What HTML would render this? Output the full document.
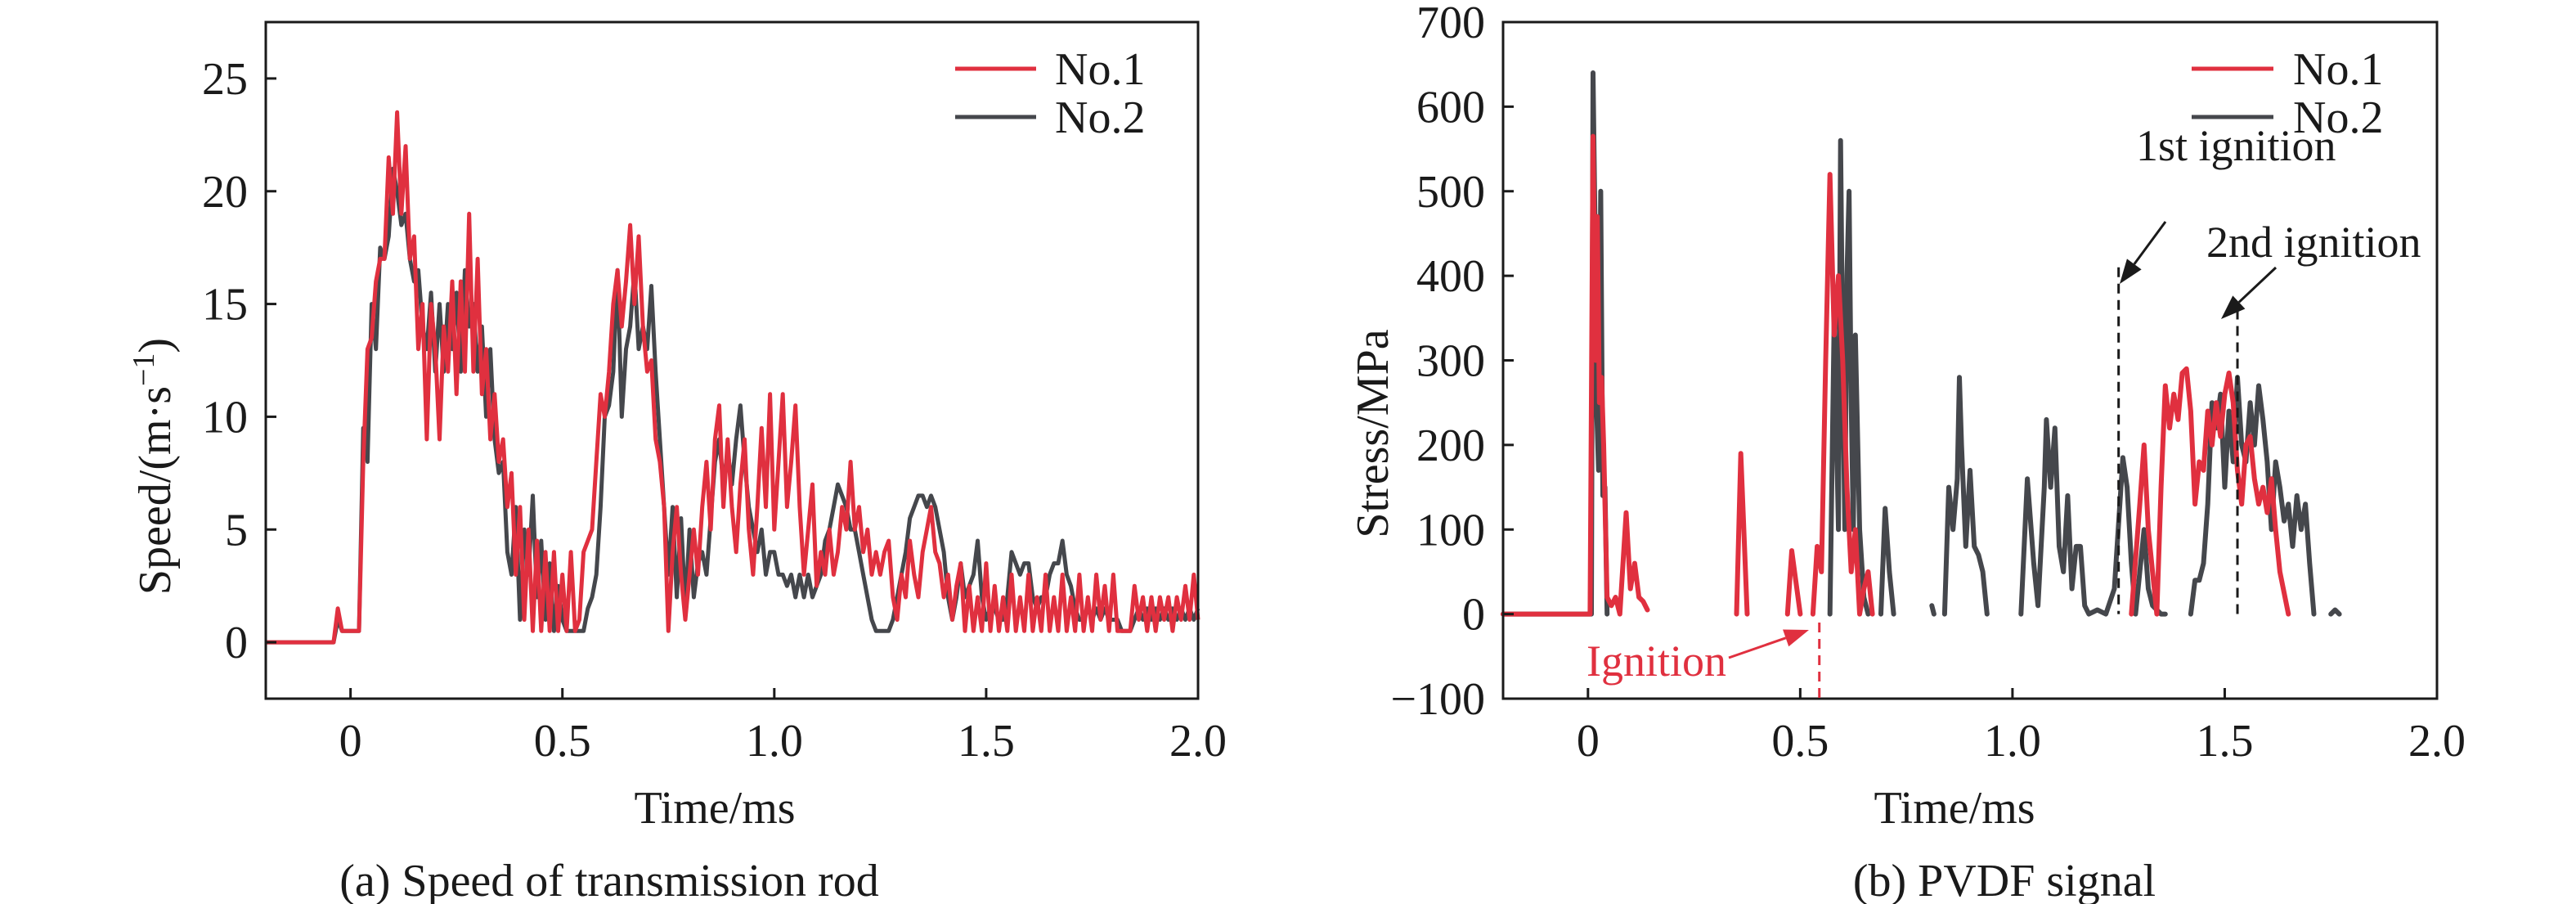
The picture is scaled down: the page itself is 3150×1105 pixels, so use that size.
<!DOCTYPE html>
<html><head><meta charset="utf-8">
<style>
html,body{margin:0;padding:0;background:#fff;}
svg{display:block;}
svg text{font-family:"Liberation Serif","Times New Roman",serif;}
</style></head>
<body>
<svg id="fig" width="3150" height="1105" viewBox="0 0 3150 1105" xmlns="http://www.w3.org/2000/svg" font-family="Liberation Serif, serif">
  <g id="chartA"></g>
  <g id="chartB"></g>
</svg>
<script>
// ---------- Chart (a) data ----------
const aXTicks = [0, 0.5, 1.0, 1.5, 2.0];
const aXTickLabels = ["0", "0.5", "1.0", "1.5", "2.0"];
const aYTicks = [0, 5, 10, 15, 20, 25];
const aYTickLabels = ["0", "5", "10", "15", "20", "25"];
const aStart = -0.04;
const aStep = 0.01;
const aNo1 = [0,1.5,0.5,0.5,0.5,0.5,0.5,8,
13,13.5,16,17,17,21.5,19,23.5,19,22,
17,18,13,15,9,15,13,9,14,12,
16,11,16,12,19,12,17,11,13,9,
11,8,9,6,7.5,3,6,1,5,0.5,
4.5,0.5,4,0.5,4,0.5,3,0.5,4,0.5,
1,4,4.5,5,8,11,10,12,15,16.5,
14,16,18.5,15,18,14,12,12.5,9,8,
6,
0.5,4,6,3,1,3,5,3,6,8,5,9,10.5,6,9,6,4,7,9,5,3,6,9.5,6,11,5,8,11,6,8,10.5,6,3,5,7,2.5,4,3,5,3,4,6,5,8,5,6,4,5,3,4,3,4,4.5,2,1,3,2,4.5,3,2,4,5,6,4,3.5,2,3,1,2.5,3.5,
0.5,2.5,0.5,2,0.5,3.5,0.5,2.5,0.5,2,0.5,3,0.5,2,0.5,3,0.5,2,0.5,3,0.5,2,0.5,3,0.5,2,0.5,3,0.5,2,0.5,3,1,2.5,0.5,3,0.5,0.5,0.5,0.5,2.5,1,2,0.5,2,0.5,2,1,2,0.5,2,1,2.5,1,3,1];
const aNo2 = [0,1,0.5,0.5,0.5,0.5,0.5,9.5,
8,15,13,17.5,17,18,21,20,18.5,19,17,16,16.5,14,13,15.5,12,15,12,15,13,15.5,12,16.5,14,15,12,14,10,13,9,7.5,8,4,3,6,1,5,3,6.5,2,4.5,1,3.5,0.5,2.5,
1,0.5,0.5,0.5,0.5,0.5,1.5,2,3,6,10,10.5,12,16.5,10,13,14,16.5,13,14,13,15.8,12,9,6,3,6,2,5.5,1.5,5,2,3.5,4,3,5.5,8,9,7,8.5,
7,9,10.5,8,6,5,4,5,3,4,4,3,3,2.5,3,2,3,2,3,2,2.5,3,4.5,5,6,7,6.5,6,5,5,4,3,2,1,0.5,0.5,0.5,0.5,1,2,3,4,5.5,6,6.5,6.5,6,6.5,6,5,4,2,1,2,3.5,2,2.5,3,4.5,2,1,1.5,1.5,1,1,2,4,3.5,3,3.5,3.5,2,1.5,2,2,3,3.5,3.5,4.5,3,2.5,1.5,1,1,1.5,
1,1.5,1,1.5,1,1,1,0.5,0.5,0.5,1,1.5,1,1.5,1,1.5,1,1.5,1,1.5,1,1.5,1,1.5,1,1.5];

// ---------- Chart (b) data ----------
const bXTicks = [0, 0.5, 1.0, 1.5, 2.0];
const bXTickLabels = ["0", "0.5", "1.0", "1.5", "2.0"];
const bYTicks = [-100, 0, 100, 200, 300, 400, 500, 600, 700];
const bYTickLabels = ["\u2212100", "0", "100", "200", "300", "400", "500", "600", "700"];
// null = gap
const bNo1T = [-0.2,0,0.005,0.012,0.018,0.022,0.027,0.032,0.037,0.045,0.055,0.065,0.075,0.09,0.1,0.11,0.12,0.13,0.14,null,0.35,0.36,0.375,null,0.47,0.48,0.5,null,0.53,0.54,0.55,0.56,0.57,0.58,0.59,0.6,0.61,0.62,0.63,0.64,0.65,0.66,0.67,null,1.28,1.3,1.31,1.32,1.33,1.34,1.35,1.36,1.37,1.38,1.39,1.4,1.41,1.42,1.43,1.44,1.45,1.46,1.47,1.48,1.49,1.5,1.51,1.52,1.53,1.54,1.55,1.56,1.57,1.58,1.59,1.6,1.61,1.62,1.63,1.65];
const bNo1V = [0,0,0,565,300,470,250,280,200,20,10,20,0,120,30,60,20,15,5,null,0,190,0,null,0,75,0,null,0,80,50,300,520,330,400,300,150,50,100,0,30,50,0,null,0,130,200,100,50,0,150,270,220,260,230,285,290,240,130,180,170,240,200,250,210,260,285,250,170,130,200,210,160,130,150,120,160,100,50,0];
const bNo2T = [-0.2,0,0.008,0.012,0.018,0.02,0.025,0.03,0.035,0.04,0.045,null,0.57,0.58,0.59,0.595,0.6,0.605,0.61,0.615,0.62,0.625,0.63,0.64,0.65,0.66,null,0.69,0.7,0.71,0.72,null,0.81,0.815,null,0.84,0.85,0.86,0.87,0.875,0.88,0.89,0.9,0.91,0.92,0.93,0.94,null,1.02,1.035,1.05,1.06,1.075,1.08,1.09,1.1,1.11,1.12,1.13,1.14,1.15,1.16,1.17,1.18,1.2,1.22,1.24,1.26,1.27,1.28,1.29,1.31,1.32,1.33,1.35,1.36,null,1.42,1.43,1.44,1.45,1.46,1.47,1.48,1.49,1.5,1.51,1.52,1.53,1.54,1.55,1.56,1.57,1.58,1.59,1.6,1.61,1.62,1.63,1.64,1.65,1.66,1.67,1.68,1.69,1.7,1.71,null,1.75,1.76,1.77];
const bNo2V = [0,0,0,640,400,250,170,500,140,150,0,null,0,350,100,560,300,100,400,500,250,100,330,100,20,0,null,0,125,50,0,null,10,0,null,0,150,100,160,280,200,80,170,80,70,50,0,null,0,160,60,10,150,230,150,220,80,50,140,30,80,80,10,0,5,0,30,185,150,60,0,100,30,10,0,0,null,0,40,40,60,130,250,220,260,150,240,180,280,200,180,250,200,270,230,180,100,180,150,110,130,80,140,100,130,60,0,null,0,5,0];

const RED = "#e0303f", DARK = "#45474c";
const FONT = '"Liberation Serif", "Times New Roman", serif';
const NS = "http://www.w3.org/2000/svg";
function mk(parent, tag, attrs, text){
  const e = document.createElementNS(NS, tag);
  for (const k in attrs) e.setAttribute(k, attrs[k]);
  if (tag === 'text') e.setAttribute('font-family', FONT);
  if (text !== undefined) e.textContent = text;
  parent.appendChild(e);
  return e;
}

function scales(cfg){
  const {L,R,T,B,xmin,xmax,ymin,ymax} = cfg;
  const sx = v => L + (v - xmin) / (xmax - xmin) * (R - L);
  const sy = v => B - (v - ymin) / (ymax - ymin) * (B - T);
  return {sx, sy};
}

function axes(g, cfg, sx, sy, xt, xl, yt, yl){
  const {L,B} = cfg;
  const xg = mk(g,'g',{});
  
  
  xt.forEach((v,i)=>{
    const tk = mk(xg,'line',{x1:sx(v),x2:sx(v),y1:B,y2:B-13,stroke:'#1a1a1a','stroke-width':3});
    
    
    const lb = mk(xg,'text',{x:sx(v),y:B+70,'font-size':56,'text-anchor':'middle',fill:'#1a1a1a'},xl[i]);
    
    
  });
  const yg = mk(g,'g',{});
  
  
  yt.forEach((v,i)=>{
    const tk = mk(yg,'line',{x1:L,x2:L+13,y1:sy(v),y2:sy(v),stroke:'#1a1a1a','stroke-width':3});
    
    
    const lb = mk(yg,'text',{x:L-22,y:sy(v)+19,'font-size':56,'text-anchor':'end',fill:'#1a1a1a'},yl[i]);
    
    
  });
}

function pathFrom(ts, vs, sx, sy){
  let d = '', pen = false;
  for (let i=0;i<ts.length;i++){
    if (ts[i]===null || vs[i]===null){ pen=false; continue; }
    d += (pen?'L':'M') + sx(ts[i]).toFixed(1) + ' ' + sy(vs[i]).toFixed(1) + ' ';
    pen = true;
  }
  return d;
}

function legend(g, x1, x2, tx, y1, y2){
  const lg = mk(g,'g',{});
  
  
  [[RED,'No.1',y1],[DARK,'No.2',y2]].forEach(([c,t,y])=>{
    const e = mk(lg,'g',{});
    
    
    mk(e,'line',{x1:x1,x2:x2,y1:y,y2:y,stroke:c,'stroke-width':5});
    mk(e,'text',{x:tx,y:y+19,'font-size':56,fill:'#1a1a1a'},t);
  });
}

// ---------- Chart (a) ----------
(function(){
  const g = document.getElementById('chartA');
  const cfg = {L:325,R:1465,T:27,B:854,xmin:-0.2,xmax:2.0,ymin:-2.5,ymax:27.5};
  const {sx,sy} = scales(cfg);
  const tsA = aNo1.map((_,i)=> aStart + i*aStep);
  const tsB = aNo2.map((_,i)=> aStart + i*aStep);
  const p2 = mk(g,'path',{d:'M'+sx(-0.2)+' '+sy(0)+' '+pathFrom(tsB,aNo2,sx,sy).replace(/^M/,'L'),fill:'none',stroke:DARK,'stroke-width':5,'stroke-linejoin':'round'});
  
  
  const p1 = mk(g,'path',{d:'M'+sx(-0.2)+' '+sy(0)+' '+pathFrom(tsA,aNo1,sx,sy).replace(/^M/,'L'),fill:'none',stroke:RED,'stroke-width':5,'stroke-linejoin':'round'});
  
  
  const fr = mk(g,'rect',{x:cfg.L,y:cfg.T,width:cfg.R-cfg.L,height:cfg.B-cfg.T,fill:'none',stroke:'#1a1a1a','stroke-width':3});
  
  
  axes(g,cfg,sx,sy,aXTicks,aXTickLabels,aYTicks,aYTickLabels);
  legend(g,1168,1267,1290,84,143);
  const xt = mk(g,'text',{x:874,y:1006,'font-size':56,'text-anchor':'middle',fill:'#1a1a1a'},'Time/ms');
  
  
  const yt = mk(g,'text',{x:0,y:0,'font-size':56,'text-anchor':'middle',fill:'#1a1a1a',transform:'translate(208,570) rotate(-90)'});
  yt.innerHTML = 'Speed/(m·s<tspan dy="-20" font-size="38">\u22121</tspan><tspan dy="20">)</tspan>';
  
  
  const cap = mk(g,'text',{x:745,y:1095,'font-size':56,'text-anchor':'middle',fill:'#1a1a1a'},'(a) Speed of transmission rod');
  
  
})();

// ---------- Chart (b) ----------
(function(){
  const g = document.getElementById('chartB');
  const cfg = {L:1838,R:2980,T:27,B:854,xmin:-0.2,xmax:2.0,ymin:-100,ymax:700};
  const {sx,sy} = scales(cfg);
  const p2 = mk(g,'path',{d:pathFrom(bNo2T,bNo2V,sx,sy),fill:'none',stroke:DARK,'stroke-width':6,'stroke-linejoin':'round','stroke-linecap':'round'});
  
  
  const p1 = mk(g,'path',{d:pathFrom(bNo1T,bNo1V,sx,sy),fill:'none',stroke:RED,'stroke-width':6,'stroke-linejoin':'round','stroke-linecap':'round'});
  
  
  const fr = mk(g,'rect',{x:cfg.L,y:cfg.T,width:cfg.R-cfg.L,height:cfg.B-cfg.T,fill:'none',stroke:'#1a1a1a','stroke-width':3});
  
  
  axes(g,cfg,sx,sy,bXTicks,bXTickLabels,bYTicks,bYTickLabels);
  legend(g,2680,2780,2804,84,143);

  const d1 = mk(g,'line',{x1:sx(1.25),x2:sx(1.25),y1:sy(410),y2:sy(0),stroke:'#1a1a1a','stroke-width':3,'stroke-dasharray':'12 8'});
  
  
  const d2 = mk(g,'line',{x1:sx(1.53),x2:sx(1.53),y1:sy(360),y2:sy(0),stroke:'#1a1a1a','stroke-width':3,'stroke-dasharray':'12 8'});
  
  
  const d3 = mk(g,'line',{x1:sx(0.545),x2:sx(0.545),y1:sy(-10),y2:cfg.B,stroke:RED,'stroke-width':3,'stroke-dasharray':'12 8'});
  
  

  function arrow(x1,y1,x2,y2,col,name){
    const a = mk(g,'g',{});
    
    
    const ang = Math.atan2(y2-y1,x2-x1), L=30, W=11;
    const bx = x2 - L*Math.cos(ang), by = y2 - L*Math.sin(ang);
    mk(a,'line',{x1:x1,y1:y1,x2:bx,y2:by,stroke:col,'stroke-width':3});
    const px = -Math.sin(ang)*W, py = Math.cos(ang)*W;
    mk(a,'polygon',{points:`${x2},${y2} ${bx+px},${by+py} ${bx-px},${by-py}`,fill:col});
  }
  arrow(2648,271,2592,347,'#1a1a1a','first-ignition-arrow');
  arrow(2783,327,2716,390,'#1a1a1a','second-ignition-arrow');
  arrow(2114,804,2212,770,RED,'ignition-arrow');

  const t1 = mk(g,'text',{x:2612,y:196,'font-size':54,fill:'#1a1a1a'},'1st ignition');
  
  
  const t2 = mk(g,'text',{x:2698,y:314,'font-size':54,fill:'#1a1a1a'},'2nd ignition');
  
  
  const t3 = mk(g,'text',{x:1940,y:826,'font-size':54,fill:RED},'Ignition');
  
  

  const xt = mk(g,'text',{x:2390,y:1006,'font-size':56,'text-anchor':'middle',fill:'#1a1a1a'},'Time/ms');
  
  
  const yt = mk(g,'text',{x:0,y:0,'font-size':56,'text-anchor':'middle',fill:'#1a1a1a',transform:'translate(1697,530) rotate(-90)'},'Stress/MPa');
  
  
  const cap = mk(g,'text',{x:2451,y:1095,'font-size':56,'text-anchor':'middle',fill:'#1a1a1a'},'(b) PVDF signal');
  
  
})();
</script>
</body></html>
